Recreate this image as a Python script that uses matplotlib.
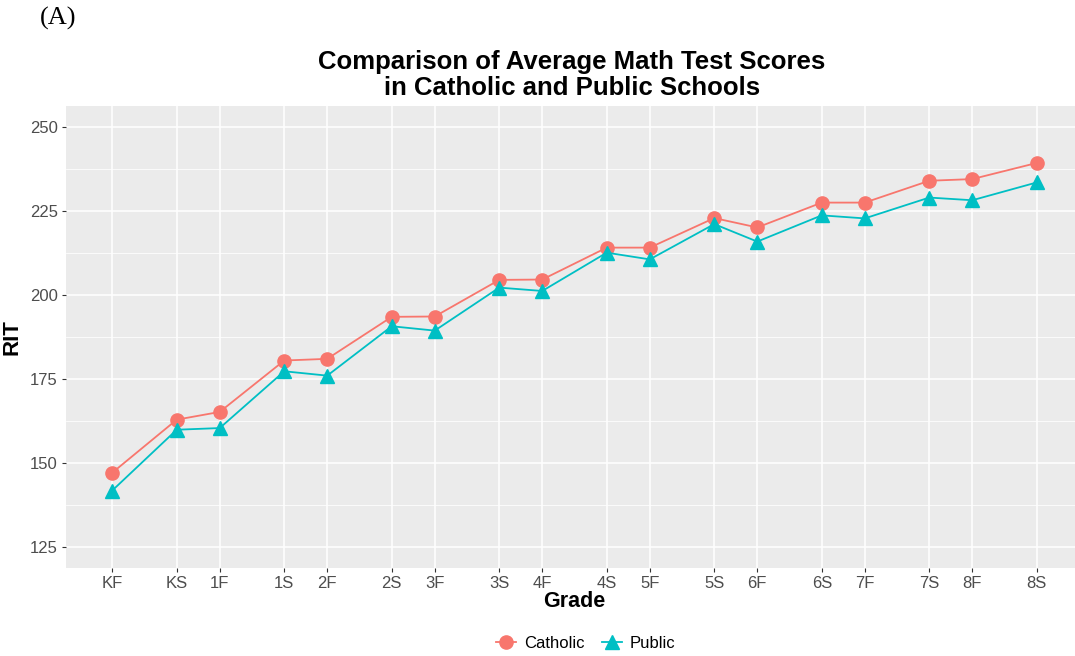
import numpy as np
import matplotlib.pyplot as plt
from matplotlib.ticker import MultipleLocator

# test terms: grade level and term (F = fall, S = spring)
grades = ["K", "1", "2", "3", "4", "5", "6", "7", "8"]
terms = ["F", "S"]
term_offset = {"F": 0.0, "S": 0.6}  # spring test sits 0.6 of a year after fall

catholic = [147.1, 162.9, 165.2, 180.5, 181.0, 193.5, 193.6, 204.5, 204.6,
            214.1, 214.1, 222.9, 220.1, 227.5, 227.5, 234.0, 234.5, 239.3]
public = [141.8, 159.9, 160.4, 177.3, 176.0, 190.7, 189.4, 202.2, 201.2,
          212.6, 210.6, 221.1, 215.9, 223.7, 222.8, 229.0, 228.2, 233.5]

labels = [g + t for g in grades for t in terms]
x = [i + term_offset[t] for i in range(len(grades)) for t in terms]

col_cath = "#F8766D"
col_pub = "#00BFC4"
txt_grey = "#4D4D4D"

plt.rcParams["font.family"] = ["Liberation Sans", "DejaVu Sans"]

fig = plt.figure(figsize=(10.75, 6.56), dpi=100)
ax = fig.add_axes([66 / 1075, 1 - 568 / 656, (1083 - 66) / 1075, (568 - 106) / 656])

# ggplot grey theme look
ax.set_facecolor("#EBEBEB")
for s in ax.spines.values():
    s.set_visible(False)
ax.yaxis.set_major_locator(MultipleLocator(25))
ax.yaxis.set_minor_locator(MultipleLocator(12.5))
ax.set_xticks(x)
ax.set_xticklabels(labels)
ax.grid(which="major", color="white", linewidth=1.1)
ax.grid(which="minor", axis="y", color="white", linewidth=0.55)
ax.set_axisbelow(True)
ax.tick_params(which="major", length=3, color="#333333", labelcolor=txt_grey,
               labelsize=12, pad=3)
ax.tick_params(which="minor", length=0)

span_x = x[-1] - x[0]
ax.set_xlim(x[0] - 0.05 * span_x, x[-1] + 0.05 * span_x)
ax.set_ylim(125 - 0.05 * 125, 250 + 0.05 * 125)

ax.plot(x, catholic, color=col_cath, marker="o", markersize=9.5, linewidth=1.3,
        label="Catholic")
ax.plot(x, public, color=col_pub, marker="^", markersize=10.5, linewidth=1.3,
        label="Public")

ax.set_xlabel("Grade", fontsize=15.5, fontweight="bold", labelpad=0)
ax.set_ylabel("RIT", fontsize=16, fontweight="bold", labelpad=5)

fig.text(572 / 1075, 1 - 75 / 656,
         "Comparison of Average Math Test Scores\nin Catholic and Public Schools",
         ha="center", va="center", fontsize=18.5, fontweight="bold",
         linespacing=1.15)
fig.text(40 / 1075, 1 - 18 / 656, "(A)", fontsize=19,
         family=["Liberation Serif", "DejaVu Serif"], ha="left", va="center")

leg = fig.legend(loc="center", bbox_to_anchor=(586 / 1075, 1 - 643 / 656), ncol=2,
                 frameon=False, fontsize=12, handlelength=1.2,
                 columnspacing=1.0, handletextpad=0.5)

fig.savefig("out.png", dpi=100)
